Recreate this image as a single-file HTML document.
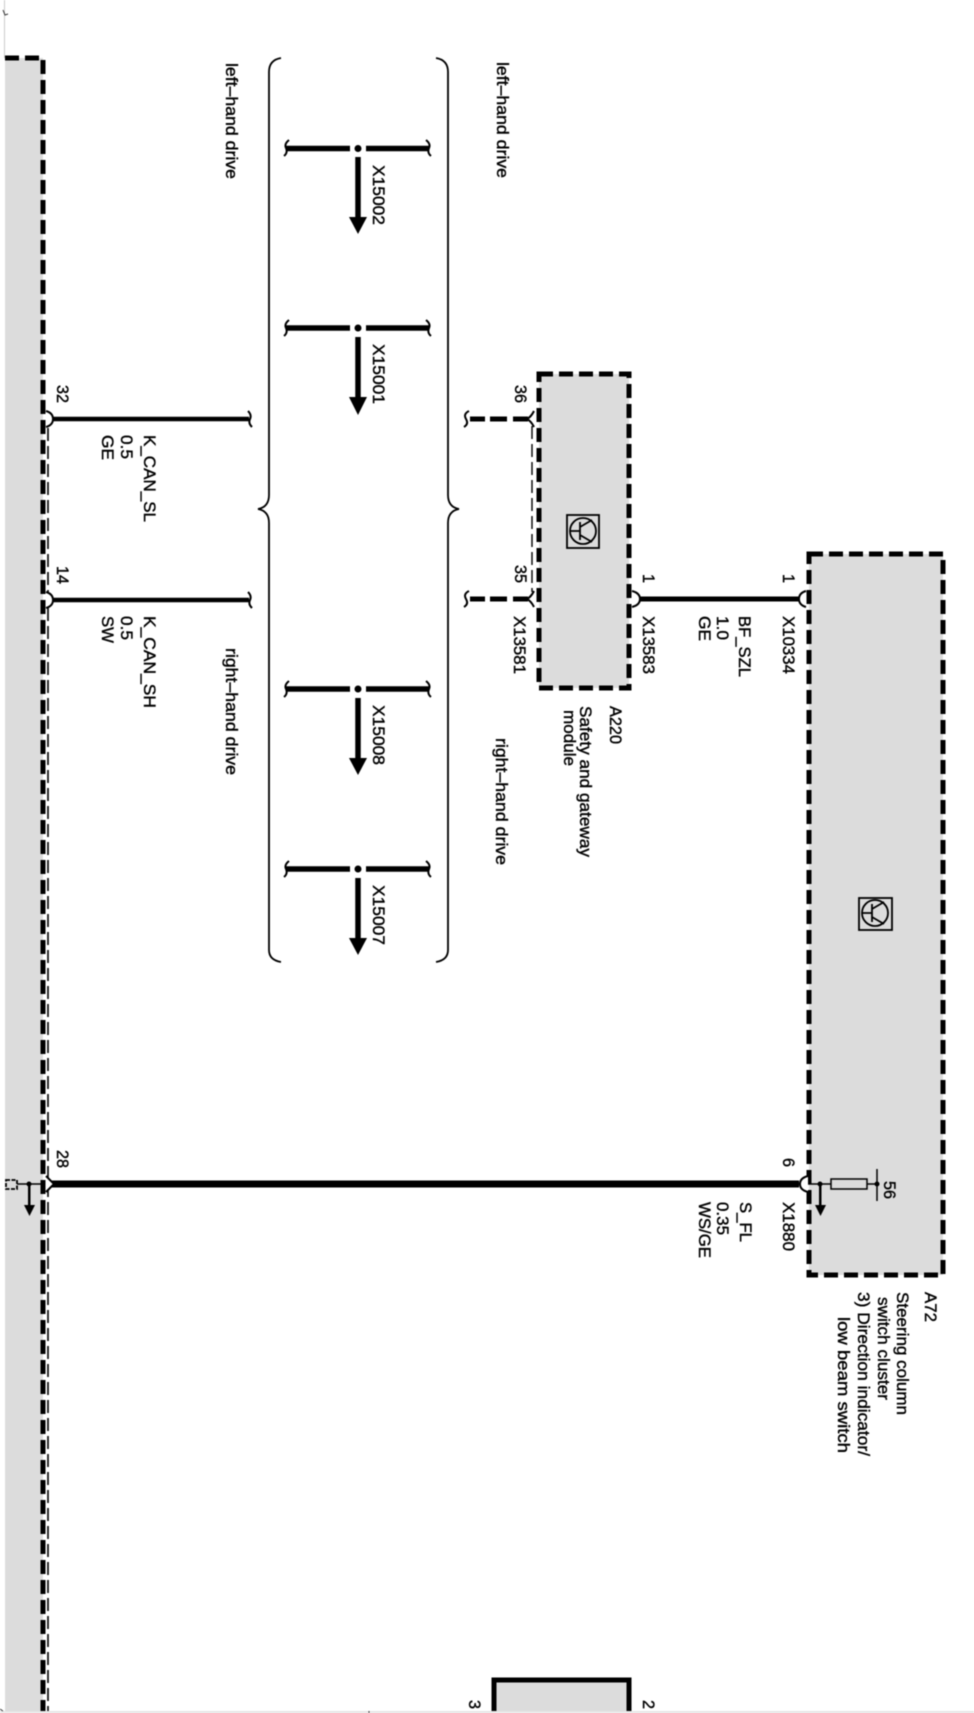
<!DOCTYPE html>
<html><head><meta charset="utf-8">
<style>html,body{margin:0;padding:0;background:#fff}svg{display:block;filter:blur(.4px)}
text{font-family:"Liberation Sans",sans-serif;font-size:17px;fill:#000;stroke:#000;stroke-width:.4}</style></head>
<body>
<svg xmlns="http://www.w3.org/2000/svg" width="974" height="1713" viewBox="0 0 974 1713">
<rect width="974" height="1713" fill="#fff"/>
<!-- Left module -->
<rect x="5" y="58" width="38" height="1655" fill="#dcdcdc"/>
<path d="M4.500 0V58" stroke="#ccc" stroke-width="1" fill="none"/>
<path d="M5 58H43V1713" stroke="#000" stroke-width="5" fill="none" stroke-dasharray="14 6"/>
<path d="M48 428V1713" stroke="#000" stroke-width="1.600" fill="none" stroke-dasharray="13 5"/>
<!-- Modules -->
<rect x="539" y="374" width="90" height="314" fill="#dcdcdc" stroke="#000" stroke-width="5" stroke-dasharray="14 6"/>
<rect x="809" y="554" width="134" height="721" fill="#dcdcdc" stroke="#000" stroke-width="5" stroke-dasharray="14 6"/>
<path d="M494 1713V1680H629V1713" fill="#dcdcdc" stroke="#000" stroke-width="5"/>
<rect x="0" y="1711" width="974" height="2" fill="#e6e6e6"/>
<path d="M532 426V592" stroke="#000" stroke-width="1.400" fill="none" stroke-dasharray="13 5"/>
<!-- Transistor icons -->
<g fill="none" stroke="#000" stroke-width="1.800">
<rect x="567" y="515" width="32" height="33"/><circle cx="583" cy="531" r="13"/>
<path d="M570 531H580M580 522V540M580 527L592 520M580 535L592 542"/>
<rect x="859" y="898" width="33" height="32"/><circle cx="875" cy="913" r="13"/>
<path d="M862 913H872M872 904V922M872 909L884 902M872 917L884 924"/>
</g>
<!-- Braces -->
<g fill="none" stroke="#000" stroke-width="1.800">
<path d="M281 58Q269 60 269 72V495Q269 507 258 509Q269 511 269 523V950Q269 960 281 962"/>
<path d="M436 58Q448 60 448 72V495Q448 507 459 509Q448 511 448 523V950Q448 960 436 962"/>
</g>
<!-- Wires -->
<g stroke="#000" fill="none">
<path d="M52 419H249M52 600H249" stroke-width="4.500"/>
<path d="M638 599H801" stroke-width="5"/>
<path d="M52 1184H799" stroke-width="7"/>
<path d="M470 419H485M490 419H507M513 419H528M470 599H485M490 599H507M513 599H528" stroke-width="5"/>
<path d="M808 1184H877M17 1184H42" stroke-width="1.500"/>
</g>
<!-- Sockets and ticks -->
<g fill="#fff" stroke="#000" stroke-width="2">
<path d="M46 411Q53 413 53 419Q53 425 46 427"/>
<path d="M46 592Q53 594 53 600Q53 606 46 608"/>
<path d="M46 1176L54 1184L46 1192"/>
<path d="M632 591Q640 593 640 599Q640 605 632 607"/>
<path d="M806 591Q799 593 799 599Q799 605 806 607"/>
<path d="M808 1176Q800 1178 800 1184Q800 1190 808 1192"/>
</g>
<g fill="none" stroke="#000" stroke-width="2">
<path d="M534 411Q531 417 527 419Q531 421 534 427M534 591Q531 597 527 599Q531 601 534 607"/>
<path d="M248 411Q252 415 250 419Q248 423 252 427M248 592Q252 596 250 600Q248 604 252 608"/>
<path d="M469 411Q463 414 466 419Q469 424 464 427M469 591Q463 594 466 599Q469 604 464 607"/>
<path d="M289 140Q284 144 286 148Q288 153 284 156M426 140Q431 144 429 148Q427 153 431 156"/>
<path d="M289 320Q284 324 286 328Q288 333 284 336M426 320Q431 324 429 328Q427 333 431 336"/>
<path d="M289 681Q284 685 286 689Q288 694 284 697M426 681Q431 685 429 689Q427 694 431 697"/>
<path d="M289 861Q284 865 286 869Q288 874 284 877M426 861Q431 865 429 869Q427 874 431 877"/>
</g>
<!-- T connections -->
<g stroke="#000" fill="none" stroke-width="5.500">
<path d="M286 148.500H350M366 148.500H429M358 157V220"/>
<path d="M286 328H350M366 328H429M358 337V400"/>
<path d="M286 689H350M366 689H429M358 698V761"/>
<path d="M286 869H350M366 869H429M358 878V941"/>
</g>
<g fill="#000">
<circle cx="358" cy="148.500" r="3.500"/><path d="M349 217H367L358 234Z"/>
<circle cx="358" cy="328" r="3.500"/><path d="M349 397H367L358 415Z"/>
<circle cx="358" cy="689" r="3.500"/><path d="M349 758H367L358 775Z"/>
<circle cx="358" cy="869" r="3.500"/><path d="M349 938H367L358 955Z"/>
<!-- Small arrows -->
<circle cx="820" cy="1184" r="2.500"/><rect x="819" y="1184" width="2.500" height="22"/><path d="M815 1205H826L820.500 1216Z"/>
<circle cx="29" cy="1184" r="2.500"/><rect x="28" y="1184" width="2.500" height="22"/><path d="M24 1205H35L29.500 1216Z"/>
<circle cx="877" cy="1184" r="2.500"/>
</g>
<rect x="831" y="1179" width="36" height="10" fill="#dcdcdc" stroke="#000" stroke-width="1.500"/>
<path d="M877 1169V1201" stroke="#000" stroke-width="1.500"/>
<rect x="6" y="1180" width="11" height="9" fill="none" stroke="#000" stroke-width="1.800" stroke-dasharray="4 1.500"/>
<path d="M3 10L5 15L8 14M0 1709L3 1711M369 1711V1713" stroke="#333" stroke-width="1" fill="none"/>
<!-- Labels -->
<text transform="translate(226 63) rotate(90)" textLength="116" lengthAdjust="spacingAndGlyphs">left–hand drive</text>
<text transform="translate(226 648) rotate(90)" textLength="127" lengthAdjust="spacingAndGlyphs">right–hand drive</text>
<text transform="translate(497 62) rotate(90)" textLength="116" lengthAdjust="spacingAndGlyphs">left–hand drive</text>
<text transform="translate(496 738) rotate(90)" textLength="127" lengthAdjust="spacingAndGlyphs">right–hand drive</text>
<text transform="translate(373 165) rotate(90)" textLength="60" lengthAdjust="spacingAndGlyphs">X15002</text>
<text transform="translate(373 344) rotate(90)" textLength="60" lengthAdjust="spacingAndGlyphs">X15001</text>
<text transform="translate(373 705) rotate(90)" textLength="60" lengthAdjust="spacingAndGlyphs">X15008</text>
<text transform="translate(373 885) rotate(90)" textLength="60" lengthAdjust="spacingAndGlyphs">X15007</text>
<text transform="translate(57 385) rotate(90)" textLength="18" lengthAdjust="spacingAndGlyphs">32</text>
<text transform="translate(57 566) rotate(90)" textLength="18" lengthAdjust="spacingAndGlyphs">14</text>
<text transform="translate(57 1150) rotate(90)" textLength="18" lengthAdjust="spacingAndGlyphs">28</text>
<text transform="translate(144 435) rotate(90)" textLength="87" lengthAdjust="spacingAndGlyphs">K_CAN_SL</text>
<text transform="translate(121 435) rotate(90)" textLength="24" lengthAdjust="spacingAndGlyphs">0.5</text>
<text transform="translate(102 435) rotate(90)" textLength="25" lengthAdjust="spacingAndGlyphs">GE</text>
<text transform="translate(144 616) rotate(90)" textLength="92" lengthAdjust="spacingAndGlyphs">K_CAN_SH</text>
<text transform="translate(121 616) rotate(90)" textLength="24" lengthAdjust="spacingAndGlyphs">0.5</text>
<text transform="translate(102 616) rotate(90)" textLength="27" lengthAdjust="spacingAndGlyphs">SW</text>
<text transform="translate(515 385) rotate(90)" textLength="18" lengthAdjust="spacingAndGlyphs">36</text>
<text transform="translate(515 565) rotate(90)" textLength="18" lengthAdjust="spacingAndGlyphs">35</text>
<text transform="translate(514 616) rotate(90)" textLength="58" lengthAdjust="spacingAndGlyphs">X13581</text>
<text transform="translate(643 616) rotate(90)" textLength="58" lengthAdjust="spacingAndGlyphs">X13583</text>
<text transform="translate(783 616) rotate(90)" textLength="58" lengthAdjust="spacingAndGlyphs">X10334</text>
<text transform="translate(643 574) rotate(90)" textLength="9" lengthAdjust="spacingAndGlyphs">1</text>
<text transform="translate(783 574) rotate(90)" textLength="9" lengthAdjust="spacingAndGlyphs">1</text>
<text transform="translate(739 616) rotate(90)" textLength="61" lengthAdjust="spacingAndGlyphs">BF_SZL</text>
<text transform="translate(717 616) rotate(90)" textLength="24" lengthAdjust="spacingAndGlyphs">1.0</text>
<text transform="translate(699 616) rotate(90)" textLength="25" lengthAdjust="spacingAndGlyphs">GE</text>
<text transform="translate(610 706) rotate(90)" textLength="38" lengthAdjust="spacingAndGlyphs">A220</text>
<text transform="translate(580 706) rotate(90)" textLength="151" lengthAdjust="spacingAndGlyphs">Safety and gateway</text>
<text transform="translate(564 710) rotate(90)" textLength="56" lengthAdjust="spacingAndGlyphs">module</text>
<text transform="translate(783 1158) rotate(90)" textLength="9" lengthAdjust="spacingAndGlyphs">6</text>
<text transform="translate(783 1202) rotate(90)" textLength="49" lengthAdjust="spacingAndGlyphs">X1880</text>
<text transform="translate(740 1202) rotate(90)" textLength="40" lengthAdjust="spacingAndGlyphs">S_FL</text>
<text transform="translate(717 1202) rotate(90)" textLength="33" lengthAdjust="spacingAndGlyphs">0.35</text>
<text transform="translate(699 1202) rotate(90)" textLength="56" lengthAdjust="spacingAndGlyphs">WS/GE</text>
<text transform="translate(884 1181) rotate(90)" textLength="18" lengthAdjust="spacingAndGlyphs">56</text>
<text transform="translate(925 1292) rotate(90)" textLength="30" lengthAdjust="spacingAndGlyphs">A72</text>
<text transform="translate(897 1292) rotate(90)" textLength="123" lengthAdjust="spacingAndGlyphs">Steering column</text>
<text transform="translate(878 1297) rotate(90)" textLength="103" lengthAdjust="spacingAndGlyphs">switch cluster</text>
<text transform="translate(858 1292) rotate(90)" textLength="164" lengthAdjust="spacingAndGlyphs">3) Direction indicator/</text>
<text transform="translate(838 1317) rotate(90)" textLength="136" lengthAdjust="spacingAndGlyphs">low beam  switch</text>
<text transform="translate(469 1700) rotate(90)" textLength="9" lengthAdjust="spacingAndGlyphs">3</text>
<text transform="translate(643 1700) rotate(90)" textLength="9" lengthAdjust="spacingAndGlyphs">2</text>
</svg>
</body></html>
